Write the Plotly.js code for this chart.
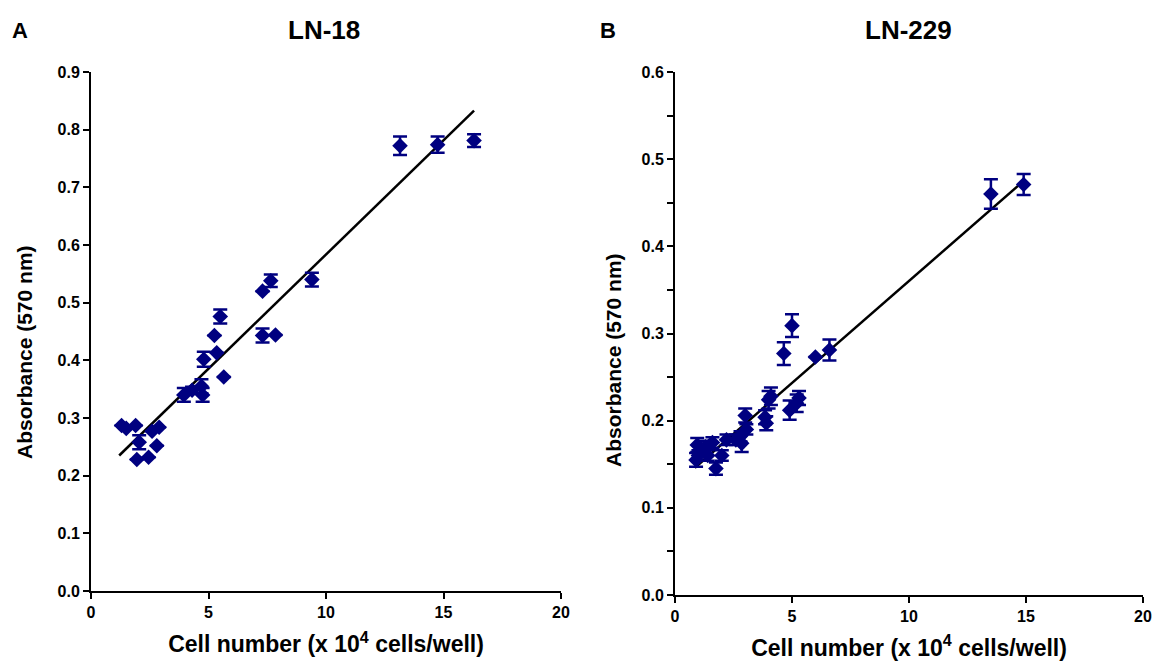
<!DOCTYPE html>
<html>
<head>
<meta charset="utf-8">
<script src="https://cdn.plot.ly/plotly-3.0.1.min.js"></script>
<style>html,body{margin:0;padding:0;background:#fff;}#chart{width:1157px;height:661px;}</style>
</head>
<body>
<div id="chart"></div>
<script>
// ---- Panel A: LN-18 ----
const ln18X   = [1.3, 1.5, 1.9, 2.05, 1.95, 2.45, 2.6, 2.9, 2.8, 3.95, 4.3, 4.7, 4.75, 4.8, 5.25, 5.35, 5.65, 5.5, 7.3, 7.65, 7.3, 7.85, 9.4, 13.15, 14.75, 16.3];
const ln18Y   = [0.287, 0.282, 0.287, 0.258, 0.228, 0.232, 0.277, 0.284, 0.252, 0.340, 0.348, 0.355, 0.340, 0.402, 0.443, 0.413, 0.371, 0.476, 0.520, 0.538, 0.443, 0.444, 0.540, 0.772, 0.774, 0.781];
const ln18Err = [0, 0, 0, 0.012, 0, 0, 0, 0, 0, 0.012, 0.006, 0.012, 0.012, 0.013, 0, 0, 0, 0.012, 0, 0.011, 0.012, 0, 0.012, 0.016, 0.014, 0.011];
const ln18FitX = [1.2, 16.3];
const ln18FitY = [0.235, 0.833];

// ---- Panel B: LN-229 ----
const ln229X   = [0.9, 0.95, 1.0, 1.1, 1.3, 1.4, 1.6, 1.75, 2.0, 2.2, 2.6, 2.8, 2.85, 3.0, 3.05, 3.9, 4.0, 4.1, 3.85, 4.65, 5.0, 4.9, 5.2, 5.3, 6.0, 6.6, 13.5, 14.9];
const ln229Y   = [0.155, 0.172, 0.160, 0.166, 0.170, 0.160, 0.175, 0.145, 0.160, 0.178, 0.178, 0.182, 0.174, 0.206, 0.190, 0.197, 0.224, 0.228, 0.204, 0.277, 0.309, 0.212, 0.220, 0.226, 0.273, 0.281, 0.460, 0.471];
const ln229Err = [0.008, 0.008, 0.006, 0.006, 0.007, 0.006, 0.006, 0.007, 0.006, 0.006, 0.006, 0.006, 0.010, 0.008, 0.006, 0.008, 0.010, 0.010, 0.008, 0.013, 0.013, 0.011, 0.010, 0.008, 0, 0.012, 0.017, 0.012];
const ln229FitX = [0.85, 14.9];
const ln229FitY = [0.146, 0.475];

const navy = '#000080';
const fontFam = '"Liberation Sans", Arial, sans-serif';

function pts(x, y, e, xa, ya) {
  return {
    x: x, y: y, xaxis: xa, yaxis: ya, type: 'scatter', mode: 'markers',
    marker: {symbol: 'diamond', size: 12, color: navy},
    error_y: {type: 'data', array: e, visible: true, color: navy, thickness: 2.5, width: 7},
    showlegend: false, hoverinfo: 'x+y'
  };
}
function fit(x, y, xa, ya) {
  return {x: x, y: y, xaxis: xa, yaxis: ya, type: 'scatter', mode: 'lines',
    line: {color: 'black', width: 2.5}, showlegend: false, hoverinfo: 'skip'};
}

const data = [
  fit(ln18FitX, ln18FitY, 'x', 'y'),
  pts(ln18X, ln18Y, ln18Err, 'x', 'y'),
  fit(ln229FitX, ln229FitY, 'x2', 'y2'),
  pts(ln229X, ln229Y, ln229Err, 'x2', 'y2')
];

const tickFont = {family: fontFam, size: 16, color: 'black', weight: 'bold'};
const xTitleFont = {family: fontFam, size: 23, color: 'black', weight: 'bold'};
const yTitleFont = {family: fontFam, size: 21, color: 'black', weight: 'bold'};

function xAxis(domain, anchor) {
  return {
    domain: domain, anchor: anchor, range: [0, 20], dtick: 5, tick0: 0,
    showline: true, linecolor: 'black', linewidth: 2, ticks: 'outside', ticklen: 6, tickwidth: 2, tickcolor: 'black',
    showgrid: false, zeroline: false, tickfont: tickFont,
    title: {text: 'Cell number (x 10<sup>4</sup> cells/well)', font: xTitleFont, standoff: 16}
  };
}
function yAxis(domain, anchor, top, minor) {
  const a = {
    domain: domain, anchor: anchor, range: [0, top], dtick: 0.1, tick0: 0, tickformat: '.1f',
    showline: true, linecolor: 'black', linewidth: 2, ticks: 'outside', ticklen: 6, tickwidth: 2, tickcolor: 'black',
    showgrid: false, zeroline: false, tickfont: tickFont,
    title: {text: ''}
  };
  if (minor) a.minor = {dtick: 0.05, ticks: 'outside', ticklen: 6, tickwidth: 2, tickcolor: 'black', showgrid: false};
  return a;
}

function ann(text, px, py, size, angle) {
  return {text: text, x: px/1157, y: 1 - py/661, xref: 'paper', yref: 'paper', showarrow: false,
    xanchor: 'center', yanchor: 'middle', textangle: angle || 0,
    font: {family: fontFam, size: size, color: 'black', weight: 'bold'}};
}

const layout = {
  width: 1157, height: 661,
  margin: {l: 0, r: 0, t: 0, b: 0},
  paper_bgcolor: 'white', plot_bgcolor: 'white',
  xaxis: xAxis([91/1157, 561/1157], 'y'),
  yaxis: yAxis([(661-591)/661, (661-72)/661], 'x', 0.9, false),
  xaxis2: xAxis([675/1157, 1143/1157], 'y2'),
  yaxis2: yAxis([(661-595)/661, (661-72)/661], 'x2', 0.6, true),
  annotations: [
    ann('A', 20, 30, 22),
    ann('LN-18', 324, 30, 26),
    ann('B', 608, 30, 22),
    ann('LN-229', 908, 30, 26),
    ann('Absorbance (570 nm)', 24, 352, yTitleFont.size, -90),
    ann('Absorbance (570 nm)', 613, 360, yTitleFont.size, -90)
  ]
};

Plotly.newPlot('chart', data, layout, {displayModeBar: false, staticPlot: true});
</script>
</body>
</html>
